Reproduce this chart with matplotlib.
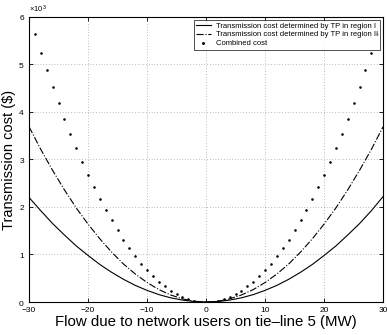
import numpy as np
import matplotlib
matplotlib.use("Agg")
import matplotlib.pyplot as plt
from matplotlib.ticker import ScalarFormatter

plt.rcParams['font.family'] = ['Liberation Sans', 'DejaVu Sans']
plt.rcParams['mathtext.fontset'] = 'custom'
plt.rcParams['mathtext.rm'] = 'Liberation Sans'

# flows on tie-line 5 (MW), costs in thousands of $
flow_lines = list(range(-30, 31, 2))
cost_region1 = [2.20, 1.92, 1.65, 1.41, 1.18, 0.98, 0.79, 0.625, 0.478, 0.35, 0.245,
                0.156, 0.088, 0.04, 0.01, 0.0, 0.01, 0.04, 0.088, 0.156, 0.245, 0.35,
                0.478, 0.625, 0.79, 0.98, 1.18, 1.41, 1.65, 1.92, 2.22]
cost_region2 = [3.69, 3.21, 2.77, 2.36, 1.98, 1.64, 1.33, 1.05, 0.80, 0.59, 0.41,
                0.262, 0.148, 0.066, 0.016, 0.0, 0.016, 0.066, 0.148, 0.262, 0.41, 0.59,
                0.80, 1.05, 1.33, 1.64, 1.98, 2.36, 2.77, 3.21, 3.69]

flow_dots = list(range(-29, 30))
cost_combined = [5.64, 5.25, 4.88, 4.53, 4.19, 3.86, 3.54, 3.24, 2.95, 2.68, 2.42,
                 2.17, 1.94, 1.72, 1.51, 1.31, 1.13, 0.96, 0.81, 0.67, 0.54, 0.43,
                 0.33, 0.24, 0.17, 0.107, 0.06, 0.027, 0.007, 0.0, 0.007, 0.027,
                 0.06, 0.107, 0.17, 0.24, 0.33, 0.43, 0.54, 0.67, 0.81, 0.96, 1.13,
                 1.31, 1.51, 1.72, 1.94, 2.17, 2.42, 2.68, 2.95, 3.24, 3.54, 3.86,
                 4.19, 4.53, 4.88, 5.25, 5.64]

fig = plt.figure(figsize=(3.87, 3.35), dpi=100)
ax = fig.add_axes([0.075, 0.0985, 0.915, 0.851])

ax.plot(flow_lines, np.array(cost_region1) * 1e3, '-', color='black', lw=0.8,
        label='Transmission cost determined by TP in region I')
ax.plot(flow_lines, np.array(cost_region2) * 1e3, '-.', color='black', lw=0.8,
        label='Transmission cost determined by TP in region II')
ax.plot(flow_dots, np.array(cost_combined) * 1e3, '.', color='black', ms=1.7,
        label='Combined cost')

ax.set_xlim(-30, 30)
ax.set_ylim(0, 6000)
ax.set_xticks([-30, -20, -10, 0, 10, 20, 30])
ax.set_yticks([0, 1000, 2000, 3000, 4000, 5000, 6000])

fmt = ScalarFormatter(useMathText=True)
fmt.set_powerlimits((0, 0))
ax.yaxis.set_major_formatter(fmt)
ax.yaxis.get_offset_text().set_fontsize(5.5)

ax.tick_params(direction='in', labelsize=6, length=3, width=0.6,
               top=True, right=True)
ax.tick_params(axis='x', pad=3.5)
ax.tick_params(axis='y', pad=3)
ax.grid(True, linestyle=(0, (1, 3)), color='black', lw=0.5, alpha=0.5)
for s in ax.spines.values():
    s.set_linewidth(0.8)

ax.set_xlabel('Flow due to network users on tie\u2013line 5 (MW)', fontsize=10.8, labelpad=1)
ax.set_ylabel('Transmission cost ($)', fontsize=10.5, labelpad=2)

leg = ax.legend(loc='upper right', fontsize=5.5, frameon=True, fancybox=False,
                edgecolor='black', handlelength=2.0, borderpad=0.3, labelspacing=0.2,
                handletextpad=0.6, borderaxespad=0.4, markerscale=1.3)
leg.get_frame().set_linewidth(0.6)

fig.savefig('out.png', dpi=100)
